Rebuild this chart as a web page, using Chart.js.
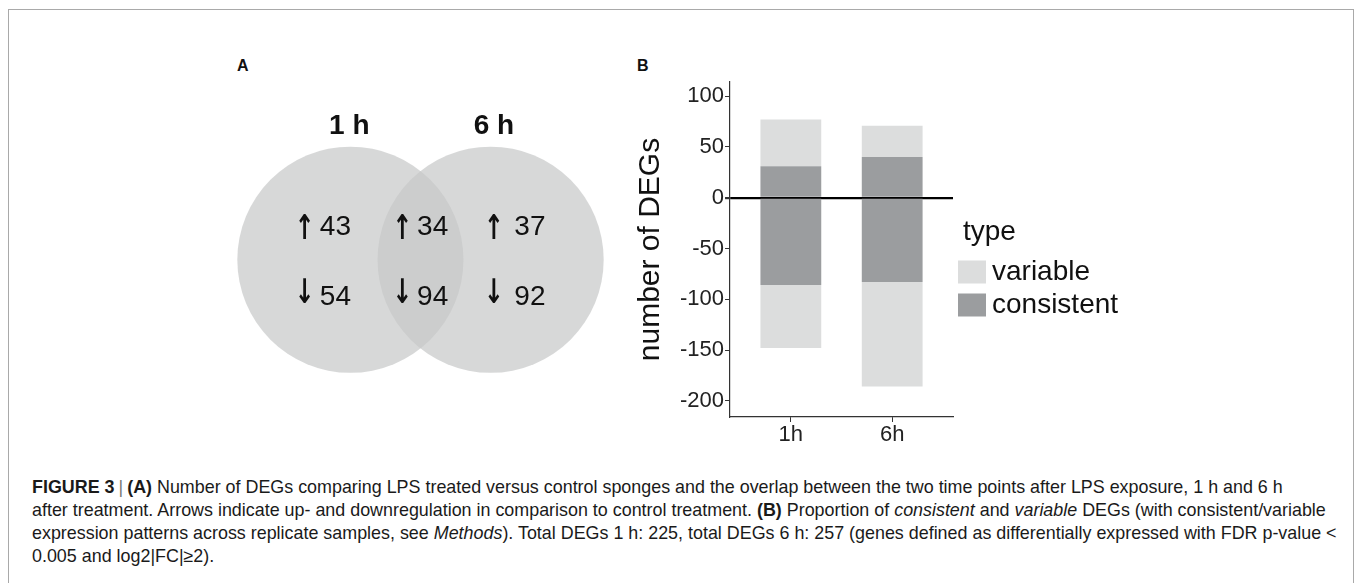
<!DOCTYPE html>
<html>
<head>
<meta charset="utf-8">
<script src="https://cdn.jsdelivr.net/npm/chart.js@4.4.1/dist/chart.umd.min.js"></script>
<style>
  html, body { margin: 0; padding: 0; background: #fff; }
  body { width: 1354px; height: 583px; position: relative; overflow: hidden;
         font-family: "Liberation Sans", Arial, sans-serif; color: #111; }
  #frame { position: absolute; left: 8px; top: 9px; width: 1346px; height: 640px;
           border: 1px solid #a9a9a9; box-sizing: border-box; }
  .panel { position: absolute; font-weight: bold; font-size: 16px; line-height: 20px; }
  #venn { position: absolute; left: 200px; top: 79px; }
  #bars { position: absolute; left: 600px; top: 60px; }
  #caption { position: absolute; left: 32px; top: 476px; font-size: 17.9px; line-height: 23px;
             white-space: nowrap; color: #1a1a1a; }
  #caption .sep { color: #777; padding: 0 4px; }
</style>
</head>
<body>
<div id="frame"></div>
<div class="panel" style="left:237px; top:56px;">A</div>
<div class="panel" style="left:637px; top:56px;">B</div>
<canvas id="venn" width="441" height="322"></canvas>
<canvas id="bars" width="536" height="400"></canvas>
<div id="caption">
  <div><b>FIGURE 3</b><span class="sep">|</span><b>(A)</b> Number of DEGs comparing LPS treated versus control sponges and the overlap between the two time points after LPS exposure, 1 h and 6 h</div>
  <div>after treatment. Arrows indicate up- and downregulation in comparison to control treatment. <b>(B)</b> Proportion of <i>consistent</i> and <i>variable</i> DEGs (with consistent/variable</div>
  <div>expression patterns across replicate samples, see <i>Methods</i>). Total DEGs 1 h: 225, total DEGs 6 h: 257 (genes defined as differentially expressed with FDR p-value &lt;</div>
  <div>0.005 and log2|FC|≥2).</div>
</div>
<script>
// --- data ---
const vennSets = ['1 h', '6 h'];
const vennUp = [43, 34, 37];     // 1h only, shared, 6h only
const vennDown = [54, 94, 92];

const timePoints = ['1h', '6h'];
const upConsistent = [31, 40];
const upVariable = [46, 31];
const downConsistent = [-86, -83];
const downVariable = [-62, -103];
const yTicks = [-200, -150, -100, -50, 0, 50, 100];

// --- layout (venn units: circle radius = 1) ---
const vennCentres = [-0.62, 0.62];
const vennTitleX = [-0.63, 0.65];
const vennArrowX = [-1.025, -0.16, 0.65];
const vennNumberX = [-0.89, -0.03, 0.83];
const vennRowY = { title: -1.18, up: -0.29, down: 0.33 };

const fontFamily = '"Liberation Sans", Arial, sans-serif';
Chart.defaults.font.family = fontFamily;
Chart.defaults.color = '#111';

const colVariable = '#dcdddd';
const colConsistent = '#9b9d9f';

// venn diagram: two big scatter points, labels drawn through the scales
const vennText = {
    id: 'vennText',
    afterDatasetsDraw(chart) {
        const ctx = chart.ctx;
        const sx = chart.scales.x, sy = chart.scales.y;
        ctx.save();
        ctx.fillStyle = '#111';
        ctx.textBaseline = 'middle';
        ctx.textAlign = 'center';
        ctx.font = 'bold 28px ' + fontFamily;
        vennSets.forEach((s, i) => {
            ctx.fillText(s, sx.getPixelForValue(vennTitleX[i]), sy.getPixelForValue(vennRowY.title));
        });
        const yUp = sy.getPixelForValue(vennRowY.up);
        const yDown = sy.getPixelForValue(vennRowY.down);
        vennUp.forEach((v, i) => {
            const xa = sx.getPixelForValue(vennArrowX[i]);
            const xn = sx.getPixelForValue(vennNumberX[i]);
            // arrows: bold glyph, squeezed a little so the head stays narrow
            ctx.save();
            ctx.textAlign = 'center';
            ctx.font = 'bold 34px "DejaVu Sans", ' + fontFamily;
            ctx.translate(xa, 0);
            ctx.scale(0.7, 1);
            ctx.fillText('\u2191', 0, yUp + 3);
            ctx.fillText('\u2193', 0, yDown - 3);
            ctx.restore();
            ctx.textAlign = 'left';
            ctx.font = '28px ' + fontFamily;
            ctx.fillText(String(v), xn, yUp);
            ctx.fillText(String(vennDown[i]), xn, yDown);
        });
        ctx.restore();
    }
};

function unitRadius(c) {
    const sx = c.chart.scales.x;
    return sx.getPixelForValue(1) - sx.getPixelForValue(0);
}

new Chart(document.getElementById('venn'), {
    type: 'scatter',
    data: {
        datasets: vennSets.map((s, i) => ({
            label: s,
            data: [{ x: vennCentres[i], y: 0 }],
            backgroundColor: 'rgba(200,201,201,0.72)',
            borderWidth: 0,
            pointRadius: unitRadius,
            pointHoverRadius: unitRadius,
            clip: false
        }))
    },
    options: {
        responsive: false,
        animation: false,
        events: [],
        layout: { padding: 0 },
        plugins: { legend: { display: false }, tooltip: { enabled: false } },
        scales: {
            x: { type: 'linear', min: -1.95, max: 1.95, display: false },
            y: { type: 'linear', min: -1.6, max: 1.25, reverse: true, display: false }
        }
    },
    plugins: [vennText]
});

// ggplot-like legend on the right: title "type" then variable / consistent
const typeLegend = {
    id: 'typeLegend',
    afterDraw(chart) {
        const { ctx, chartArea } = chart;
        const items = [chart.data.datasets[1], chart.data.datasets[0]];
        const x0 = chartArea.right + 5;
        const y0 = chartArea.top;
        ctx.save();
        ctx.textBaseline = 'middle';
        ctx.textAlign = 'left';
        ctx.font = '28px ' + fontFamily;
        ctx.fillStyle = '#111';
        ctx.fillText('type', x0 + 5, y0 + 150);
        items.forEach((ds, i) => {
            const yc = y0 + 190 + i * 33;
            ctx.fillStyle = ds.backgroundColor;
            ctx.fillRect(x0, yc - 11.5, 28, 23);
            ctx.fillStyle = '#111';
            ctx.fillText(ds.label, x0 + 34, yc);
        });
        ctx.restore();
    }
};

function pts(arr) {
    return arr.map((v, i) => ({ x: i + 1, y: v }));
}

const barStyle = { barPercentage: 0.6, categoryPercentage: 1, borderWidth: 0 };

new Chart(document.getElementById('bars'), {
    type: 'bar',
    data: {
        datasets: [
            Object.assign({ label: 'consistent', data: pts(upConsistent), backgroundColor: colConsistent }, barStyle),
            Object.assign({ label: 'variable', data: pts(upVariable), backgroundColor: colVariable }, barStyle),
            Object.assign({ label: 'consistent', data: pts(downConsistent), backgroundColor: colConsistent }, barStyle),
            Object.assign({ label: 'variable', data: pts(downVariable), backgroundColor: colVariable }, barStyle)
        ]
    },
    options: {
        responsive: false,
        animation: false,
        events: [],
        layout: { padding: { left: 29, top: 22, right: 183, bottom: 0 } },
        plugins: {
            tooltip: { enabled: false },
            legend: { display: false }
        },
        scales: {
            x: {
                type: 'linear', stacked: true, min: 0.4, max: 2.6, offset: false,
                afterBuildTicks: s => { s.ticks = timePoints.map((t, i) => ({ value: i + 1 })); },
                afterFit: s => { s.height = 43; },
                ticks: { callback: v => timePoints[v - 1], font: { size: 22 }, color: '#222', padding: 0, maxRotation: 0 },
                grid: { drawOnChartArea: false, tickLength: 5, tickColor: '#333', offset: false },
                border: { color: '#333', width: 1.2 }
            },
            y: {
                stacked: true, min: -216, max: 114, z: 1,
                afterBuildTicks: s => { s.ticks = yTicks.map(v => ({ value: v })); },
                ticks: { font: { size: 22 }, color: '#222', padding: 1 },
                grid: {
                    color: c => (c.tick && c.tick.value === 0) ? '#000' : 'rgba(0,0,0,0)',
                    lineWidth: c => (c.tick && c.tick.value === 0) ? 2.2 : 1,
                    tickLength: 5, tickColor: '#333'
                },
                border: { color: '#333', width: 1.2 },
                title: { display: true, text: 'number of DEGs', color: '#111', font: { size: 30 }, padding: { top: 4, bottom: 10 } }
            }
        }
    },
    plugins: [typeLegend]
});
</script>
</body>
</html>
